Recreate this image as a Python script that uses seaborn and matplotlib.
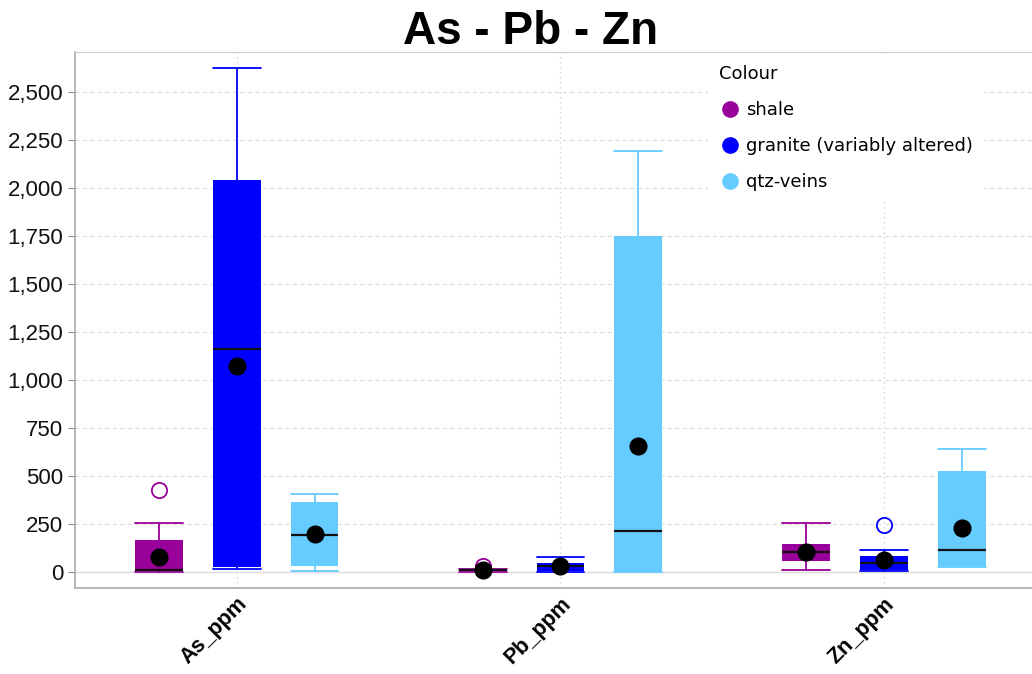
import numpy as np
import pandas as pd
import matplotlib.pyplot as plt
import matplotlib.ticker as mticker
from matplotlib.lines import Line2D
import seaborn as sns

elements = ['As_ppm', 'Pb_ppm', 'Zn_ppm']
rocks = ['shale', 'granite (variably altered)', 'qtz-veins']
colours = ['#990099', '#0000ff', '#66ccff']

# box statistics per rock type, one value per element (As, Pb, Zn)
whislo = {'shale': [0, 0, 9], 'granite (variably altered)': [17, 2, 8], 'qtz-veins': [5, 0, 25]}
q1 = {'shale': [10, 5, 59], 'granite (variably altered)': [28, 7, 10], 'qtz-veins': [31, 0, 28]}
med = {'shale': [12, 10, 106], 'granite (variably altered)': [1161, 30, 45], 'qtz-veins': [194, 214, 113]}
q3 = {'shale': [167, 14, 146], 'granite (variably altered)': [2042, 48, 83], 'qtz-veins': [366, 1750, 526]}
whishi = {'shale': [257, 18, 253], 'granite (variably altered)': [2625, 80, 113], 'qtz-veins': [406, 2193, 642]}
fliers = {'shale': [[427], [30], []], 'granite (variably altered)': [[], [], [245]], 'qtz-veins': [[], [], []]}
means = {'shale': [80, 12, 106], 'granite (variably altered)': [1073, 33, 62], 'qtz-veins': [198, 656, 228]}

sns.set_style('white')
plt.rcParams['font.family'] = ['Liberation Sans', 'DejaVu Sans']
plt.rcParams['text.color'] = 'black'

fig = plt.figure(figsize=(10.32, 6.74), dpi=100)
ax = fig.add_axes([0.0727, 0.1276, 0.9273, 0.7954])

mean_df = pd.DataFrame({
    'element': np.tile(elements, len(rocks)),
    'rock': np.repeat(rocks, len(elements)),
    'mean': np.concatenate([means[r] for r in rocks]),
})
sns.pointplot(data=mean_df, x='element', y='mean', hue='rock', hue_order=rocks,
              order=elements, palette={r: 'black' for r in rocks}, dodge=0.48,
              linestyle='none', marker='o', markersize=11, errorbar=None,
              legend=False, ax=ax)
for ln in ax.lines:
    ln.set_zorder(6)

offsets = np.linspace(-0.24, 0.24, len(rocks))
bw = 0.148
for j, r in enumerate(rocks):
    c = colours[j]
    stats = []
    for i in range(len(elements)):
        stats.append(dict(whislo=whislo[r][i], q1=q1[r][i], med=med[r][i],
                          q3=q3[r][i], whishi=whishi[r][i], fliers=fliers[r][i]))
    ax.bxp(stats, positions=np.arange(len(elements)) + offsets[j], widths=bw,
           capwidths=bw, patch_artist=True, manage_ticks=False, zorder=3,
           boxprops=dict(facecolor=c, edgecolor=c, linewidth=0),
           whiskerprops=dict(color=c, linewidth=1.3),
           capprops=dict(color=c, linewidth=1.3),
           medianprops=dict(color='#111111', linewidth=1.6),
           flierprops=dict(marker='o', markerfacecolor='none', markeredgecolor=c,
                           markersize=11, markeredgewidth=1.3))

ax.set_xlim(-0.5, 2.457)
ax.set_ylim(-83, 2708)
ax.yaxis.set_major_locator(mticker.MultipleLocator(250))
ax.yaxis.set_major_formatter(mticker.StrMethodFormatter('{x:,.0f}'))
ax.set_xticks(range(len(elements)))
ax.set_xticklabels(elements, rotation=45, ha='right', rotation_mode='anchor',
                   fontsize=15.5, fontweight='bold', color='black')
ax.tick_params(axis='y', labelsize=16, length=5, color='#888888', labelcolor='#111111', left=True)
ax.tick_params(axis='x', length=0, pad=4)
ax.set_xlabel('')
ax.set_ylabel('')

ax.grid(axis='y', linestyle=(0, (3, 3)), color='#dddddd', linewidth=0.9)
ax.grid(axis='x', linestyle=(0, (1, 3)), color='#cccccc', linewidth=0.9)
ax.axhline(0, color='#dddddd', linewidth=1, zorder=1)
for s in ['left', 'bottom']:
    ax.spines[s].set_color('#aaaaaa')
    ax.spines[s].set_linewidth(1.2)
ax.spines['top'].set_color('#cccccc')
ax.spines['right'].set_visible(False)

handles = [Line2D([], [], linestyle='none', marker='o', markersize=11,
                  markerfacecolor=c, markeredgecolor=c) for c in colours]
leg = ax.legend(handles, rocks, title='Colour', loc='upper left',
                bbox_to_anchor=(0.652, 1.012), frameon=True, framealpha=1,
                facecolor='white', edgecolor='none',
                labelspacing=1.0, handletextpad=0.3,
                handlelength=1.2, borderpad=0.6, alignment='left',
                prop={'family': 'DejaVu Sans', 'size': 13})
leg.get_title().set_family('DejaVu Sans')
leg.get_title().set_fontsize(13)
leg.set_zorder(10)

fig.text(0.514, 0.953, 'As - Pb - Zn', ha='center', va='center',
         fontsize=33, fontweight='bold', color='black')

fig.savefig('out.png', dpi=100)
